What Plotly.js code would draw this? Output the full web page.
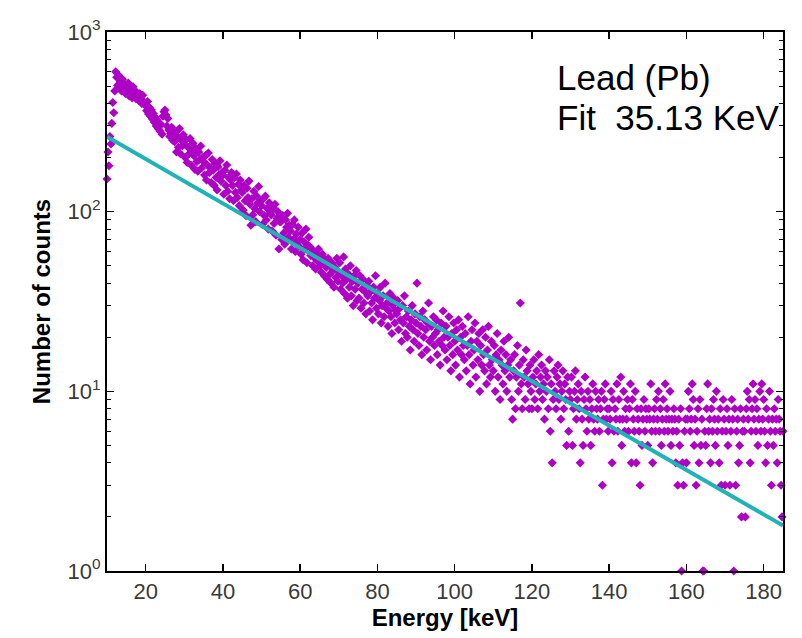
<!DOCTYPE html>
<html><head><meta charset="utf-8">
<script src="https://cdn.plot.ly/plotly-3.0.1.min.js"></script>
<style>html,body{margin:0;padding:0;background:#fff}#chart{width:802px;height:638px}</style>
</head><body><div id="chart"></div>
<script>
const energy = [
10,10.25,10.5,10.75,11,11.25,11.5,11.75,12,12.25,
12.5,12.75,13,13.25,13.5,13.75,14,14.25,14.5,14.75,
15,15.25,15.5,15.75,16,16.25,16.5,16.75,17,17.25,
17.5,17.75,18,18.25,18.5,18.75,19,19.25,19.5,19.75,
20,20.25,20.5,20.75,21,21.25,21.5,21.75,22,22.25,
22.5,22.75,23,23.25,23.5,23.75,24,24.25,24.5,24.75,
25,25.25,25.5,25.75,26,26.25,26.5,26.75,27,27.25,
27.5,27.75,28,28.25,28.5,28.75,29,29.25,29.5,29.75,
30,30.25,30.5,30.75,31,31.25,31.5,31.75,32,32.25,
32.5,32.75,33,33.25,33.5,33.75,34,34.25,34.5,34.75,
35,35.25,35.5,35.75,36,36.25,36.5,36.75,37,37.25,
37.5,37.75,38,38.25,38.5,38.75,39,39.25,39.5,39.75,
40,40.25,40.5,40.75,41,41.25,41.5,41.75,42,42.25,
42.5,42.75,43,43.25,43.5,43.75,44,44.25,44.5,44.75,
45,45.25,45.5,45.75,46,46.25,46.5,46.75,47,47.25,
47.5,47.75,48,48.25,48.5,48.75,49,49.25,49.5,49.75,
50,50.25,50.5,50.75,51,51.25,51.5,51.75,52,52.25,
52.5,52.75,53,53.25,53.5,53.75,54,54.25,54.5,54.75,
55,55.25,55.5,55.75,56,56.25,56.5,56.75,57,57.25,
57.5,57.75,58,58.25,58.5,58.75,59,59.25,59.5,59.75,
60,60.25,60.5,60.75,61,61.25,61.5,61.75,62,62.25,
62.5,62.75,63,63.25,63.5,63.75,64,64.25,64.5,64.75,
65,65.25,65.5,65.75,66,66.25,66.5,66.75,67,67.25,
67.5,67.75,68,68.25,68.5,68.75,69,69.25,69.5,69.75,
70,70.25,70.5,70.75,71,71.25,71.5,71.75,72,72.25,
72.5,72.75,73,73.25,73.5,73.75,74,74.25,74.5,74.75,
75,75.25,75.5,75.75,76,76.25,76.5,76.75,77,77.25,
77.5,77.75,78,78.25,78.5,78.75,79,79.25,79.5,79.75,
80,80.25,80.5,80.75,81,81.25,81.5,81.75,82,82.25,
82.5,82.75,83,83.25,83.5,83.75,84,84.25,84.5,84.75,
85,85.25,85.5,85.75,86,86.25,86.5,86.75,87,87.25,
87.5,87.75,88,88.25,88.5,88.75,89,89.25,89.5,89.75,
90,90.25,90.5,90.75,91,91.25,91.5,91.75,92,92.25,
92.5,92.75,93,93.25,93.5,93.75,94,94.25,94.5,94.75,
95,95.25,95.5,95.75,96,96.25,96.5,96.75,97,97.25,
97.5,97.75,98,98.25,98.5,98.75,99,99.25,99.5,99.75,
100,100.25,100.5,100.75,101,101.25,101.5,101.75,102,102.25,
102.5,102.75,103,103.25,103.5,103.75,104,104.25,104.5,104.75,
105,105.25,105.5,105.75,106,106.25,106.5,106.75,107,107.25,
107.5,107.75,108,108.25,108.5,108.75,109,109.25,109.5,109.75,
110,110.25,110.5,110.75,111,111.25,111.5,111.75,112,112.25,
112.5,112.75,113,113.25,113.5,113.75,114,114.25,114.5,114.75,
115,115.25,115.5,115.75,116,116.25,116.5,116.75,117,117.25,
117.5,117.75,118,118.25,118.5,118.75,119,119.25,119.5,119.75,
120,120.25,120.5,120.75,121,121.25,121.5,121.75,122,122.25,
122.5,122.75,123,123.25,123.5,123.75,124,124.25,124.5,124.75,
125,125.25,125.5,125.75,126,126.25,126.5,126.75,127,127.25,
127.5,127.75,128,128.25,128.5,128.75,129,129.25,129.5,129.75,
130,130.25,130.5,130.75,131,131.25,131.5,131.75,132,132.25,
132.5,132.75,133,133.25,133.5,133.75,134,134.25,134.5,134.75,
135,135.25,135.5,135.75,136,136.25,136.5,136.75,137,137.25,
137.5,137.75,138,138.25,138.5,138.75,139,139.25,139.5,139.75,
140,140.25,140.5,140.75,141,141.25,141.5,141.75,142,142.25,
142.5,142.75,143,143.25,143.5,143.75,144,144.25,144.5,144.75,
145,145.25,145.5,145.75,146,146.25,146.5,146.75,147,147.25,
147.5,147.75,148,148.25,148.5,148.75,149,149.25,149.5,149.75,
150,150.25,150.5,150.75,151,151.25,151.5,151.75,152,152.25,
152.5,152.75,153,153.25,153.5,153.75,154,154.25,154.5,154.75,
155,155.25,155.5,155.75,156,156.25,156.5,156.75,157,157.25,
157.5,157.75,158,158.25,158.5,158.75,159,159.25,159.5,159.75,
160,160.25,160.5,160.75,161,161.25,161.5,161.75,162,162.25,
162.5,162.75,163,163.25,163.5,163.75,164,164.25,164.5,164.75,
165,165.25,165.5,165.75,166,166.25,166.5,166.75,167,167.25,
167.5,167.75,168,168.25,168.5,168.75,169,169.25,169.5,169.75,
170,170.25,170.5,170.75,171,171.25,171.5,171.75,172,172.25,
172.5,172.75,173,173.25,173.5,173.75,174,174.25,174.5,174.75,
175,175.25,175.5,175.75,176,176.25,176.5,176.75,177,177.25,
177.5,177.75,178,178.25,178.5,178.75,179,179.25,179.5,179.75,
180,180.25,180.5,180.75,181,181.25,181.5,181.75,182,182.25,
182.5,182.75,183,183.25,183.5,183.75,184,184.25,184.5,184.75,
185];
const counts = [
152,215,180,262,238,310,405,355,470,600,
560,505,575,490,530,470,545,480,515,455,
500,465,520,440,485,458,430,495,450,470,
425,460,440,415,455,420,400,445,410,392,
395,365,410,350,380,340,368,328,352,315,
335,300,325,290,312,280,305,270,340,360,
368,345,300,330,285,262,272,295,250,275,
245,275,215,262,228,290,210,250,232,268,
238,200,252,188,228,210,255,182,218,240,
205,172,225,190,168,215,195,232,175,200,
190,160,205,150,182,212,165,175,145,195,
170,140,185,155,132,178,160,192,148,165,
160,125,170,140,182,130,155,118,150,165,
140,115,155,128,162,120,142,108,150,132,
128,102,140,115,95,135,120,148,110,84,
118,96,130,104,88,122,112,138,100,115,
108,85,118,95,122,90,104,80,112,98,
96,78,105,86,110,74,92,100,62,88,
88,70,95,76,66,90,82,98,72,84,
78,62,85,70,90,60,75,68,82,64,
70,58,76,54,68,62,80,52,65,72,
64,57,62,50,60,55,48,58,53,62,
56,50,46,58,52,44,54,49,42,55,
50,45,40,52,47,38,49,43,55,41,
46,52,37,44,40,56,35,48,42,33,
45,38,50,34,41,30,44,37,47,32,
40,33,44,29,37,42,31,36,27,39,
34,41,28,36,31,25,38,33,44,29,
35,27,32,38,24,30,34,26,40,29,
31,23,28,35,26,21,30,33,24,28,
27,32,22,29,25,19,30,24,34,21,
26,20,28,23,17,25,30,22,19,27,
24,40,21,18,26,23,16,28,20,25,
22,17,24,31,19,15,23,20,26,18,
21,25,16,22,19,14,24,18,28,20,
17,23,15,20,26,18,13,21,16,24,
19,14,22,17,25,12,20,16,23,18,
15,21,13,18,26,16,11,19,22,14,
17,24,12,19,15,21,10,18,14,22,
16,13,20,11,17,23,14,12,19,15,
13,18,10,16,21,12,15,9,17,14,
11,19,13,16,10,14,20,12,15,9,
7,13,16,8,12,18,10,14,31,11,
8,15,12,9,17,13,11,8,14,10,
8,12,15,9,11,13,8,16,10,12,
14,9,11,7,13,10,12,8,15,6,
11,4,9,13,10,8,12,14,9,11,
7,10,13,8,11,9,5,12,6,10,
9,12,5,8,10,13,7,9,11,8,
4,10,7,5,9,12,8,6,10,7,
9,5,8,11,7,6,10,8,7,9,
6,8,10,3,7,9,11,7,8,6,
8,7,10,4,9,6,8,7,11,6,
9,7,12,5,7,10,6,8,7,9,
6,8,11,4,9,7,6,10,4,8,
7,6,3,8,5,7,9,6,8,7,
5,8,7,11,6,4,7,8,6,9,
7,10,6,8,5,7,9,6,11,7,
8,6,7,10,5,7,6,8,7,4,
6,3,7,5,8,1,4,3,6,7,
4,7,10,8,6,7,11,9,5,7,
3,6,8,4,9,5,7,1,1,6,
5,8,11,6,7,4,8,6,9,7,
5,10,6,7,4,8,3,6,9,7,
3,6,8,5,7,3,6,9,7,1,
8,3,6,7,4,5,8,2,6,7,
6,2,8,10,7,9,4,6,8,11,
7,9,6,8,5,7,10,6,11,7,
9,6,4,8,5,7,10,6,3,7,
5,8,6,7,4,9,7,6,3,2,
6];
const fitEnergy = [10, 185];
const fitCounts = [261, 1.79];
const xTickVals = [20, 40, 60, 80, 100, 120, 140, 160, 180];
const yTickVals = [1, 10, 100, 1000];
const yTickText = ['10<sup>0</sup>', '10<sup>1</sup>', '10<sup>2</sup>', '10<sup>3</sup>'];
const yMinorVals = [2,3,4,5,6,7,8,9,20,30,40,50,60,70,80,90,200,300,400,500,600,700,800,900];
const labelLines = ['Lead (Pb)', 'Fit \u00a035.13 KeV'];

const FONT = 'Liberation Sans, Arial, sans-serif';

const traces = [
  {
    x: energy, y: counts, type: 'scatter', mode: 'markers',
    marker: {symbol: 'diamond', size: 7, color: '#ad00c4', line: {width: 0}},
    cliponaxis: false, showlegend: false, hoverinfo: 'x+y'
  },
  {
    x: fitEnergy, y: fitCounts, type: 'scatter', mode: 'lines',
    line: {color: '#1fb3b5', width: 4},
    showlegend: false
  }
];

const axisCommon = {
  showline: true, linecolor: '#000', linewidth: 2, mirror: 'ticks',
  ticks: 'inside', ticklen: 7, tickwidth: 1.5, tickcolor: '#000',
  showgrid: false, zeroline: false,
  tickfont: {family: FONT, size: 22, color: '#3a3a3a'}
};

const layout = {
  width: 802, height: 638,
  margin: {l: 107, r: 19, t: 32, b: 67, pad: 0},
  paper_bgcolor: '#fff', plot_bgcolor: '#fff',
  font: {family: FONT},
  showlegend: false,
  xaxis: Object.assign({}, axisCommon, {
    range: [10, 185], tickmode: 'array', tickvals: xTickVals,
    title: {text: '<b>Energy [keV]</b>', font: {family: FONT, size: 24, color: '#000'}, standoff: 6}
  }),
  yaxis: Object.assign({}, axisCommon, {
    type: 'log', range: [0, 3], tickmode: 'array', tickvals: yTickVals, ticktext: yTickText,
    minor: {tickmode: 'array', tickvals: yMinorVals, ticks: 'inside', ticklen: 4, tickwidth: 1, tickcolor: '#000', showgrid: false},
    title: {text: '<b>Number of counts</b>', font: {family: FONT, size: 24, color: '#000'}, standoff: 10}
  }),
  annotations: [
    {xref: 'paper', yref: 'paper', x: 0.662, y: 0.9165, xanchor: 'left', yanchor: 'middle',
     text: labelLines[0], showarrow: false, font: {family: FONT, size: 35, color: '#000'}},
    {xref: 'paper', yref: 'paper', x: 0.662, y: 0.8423, xanchor: 'left', yanchor: 'middle',
     text: labelLines[1], showarrow: false, font: {family: FONT, size: 35, color: '#000'}}
  ]
};

Plotly.newPlot('chart', traces, layout, {displayModeBar: false, staticPlot: true});
</script>
</body></html>
